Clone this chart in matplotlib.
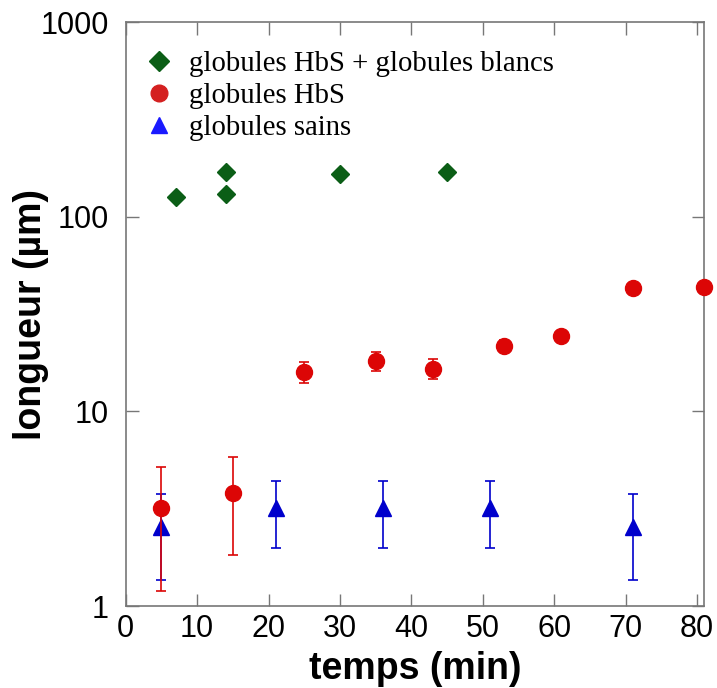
import matplotlib
matplotlib.use("Agg")
import matplotlib.pyplot as plt
from matplotlib.lines import Line2D

# Data
x_wbc = [7, 14, 14, 30, 45]
y_wbc = [127, 170, 131, 165, 170]

x_hbs = [5, 15, 25, 35, 43, 53, 61, 71, 81]
y_hbs = [3.2, 3.83, 16.0, 18.1, 16.6, 21.7, 24.4, 43.0, 43.8]
e_hbs = [2.0, 2.0, 2.0, 2.0, 2.0, 1.6, 1.5, 1.5, 1.5]

x_healthy = [5, 21, 36, 51, 71]
y_healthy = [2.56, 3.19, 3.19, 3.19, 2.56]
e_healthy = [1.2, 1.2, 1.2, 1.2, 1.2]

labels = ["globules HbS + globules blancs", "globules HbS", "globules sains"]
xticks = [0, 10, 20, 30, 40, 50, 60, 70, 80]
yticks = [1, 10, 100, 1000]

green = "#0b5e16"
red = "#dc0606"
blue = "#0000cc"

fig = plt.figure(figsize=(7.17, 6.88), dpi=100)
ax = fig.add_axes([0.1753, 0.119, 0.982 - 0.1753, 0.968 - 0.119])

ax.errorbar(x_healthy, y_healthy, yerr=e_healthy, fmt="^", color=blue, ms=11,
            ecolor=blue, elinewidth=1.2, capsize=3.5, capthick=1.2, zorder=3, clip_on=False)
ax.errorbar(x_hbs, y_hbs, yerr=e_hbs, fmt="o", color=red, ms=11.5,
            ecolor=red, elinewidth=1.2, capsize=3.5, capthick=1.2, zorder=4, clip_on=False)
ax.plot(x_wbc, y_wbc, "D", color=green, ms=9.5, zorder=5, clip_on=False)

ax.set_yscale("log")
ax.set_xlim(0, 81)
ax.set_ylim(1, 1000)
ax.set_xticks(xticks)
ax.set_xticklabels([str(t) for t in xticks])
ax.set_yticks(yticks)
ax.set_yticklabels([str(t) for t in yticks])
ax.yaxis.set_minor_locator(matplotlib.ticker.NullLocator())

for s in ax.spines.values():
    s.set_color("#777777")
    s.set_linewidth(1.2)
ax.tick_params(direction="in", length=9, width=1.0, color="#777777",
               top=True, right=True, labelsize=22)
ax.tick_params(axis="x", pad=6)
ax.tick_params(axis="y", pad=12)
for lab in ax.get_xticklabels() + ax.get_yticklabels():
    lab.set_family("Liberation Sans")

ax.set_xlabel("temps (min)", fontsize=27, fontweight="bold", family="Liberation Sans", labelpad=5)
ax.set_ylabel("longueur (µm)", fontsize=27, fontweight="bold", family="Liberation Sans", labelpad=-6)

handles = [
    Line2D([], [], ls="none", marker="D", color=green, ms=10),
    Line2D([], [], ls="none", marker="o", color="#d42020", ms=12),
    Line2D([], [], ls="none", marker="^", color="#1a1aff", ms=12),
]
ax.legend(handles, labels, loc="upper left", bbox_to_anchor=(-0.014, 0.985), frameon=False,
          prop={"family": "Liberation Serif", "size": 20.7}, handletextpad=0.3,
          labelspacing=0.2, handlelength=1.5, borderaxespad=0.3)

fig.savefig("out.png", dpi=100)
